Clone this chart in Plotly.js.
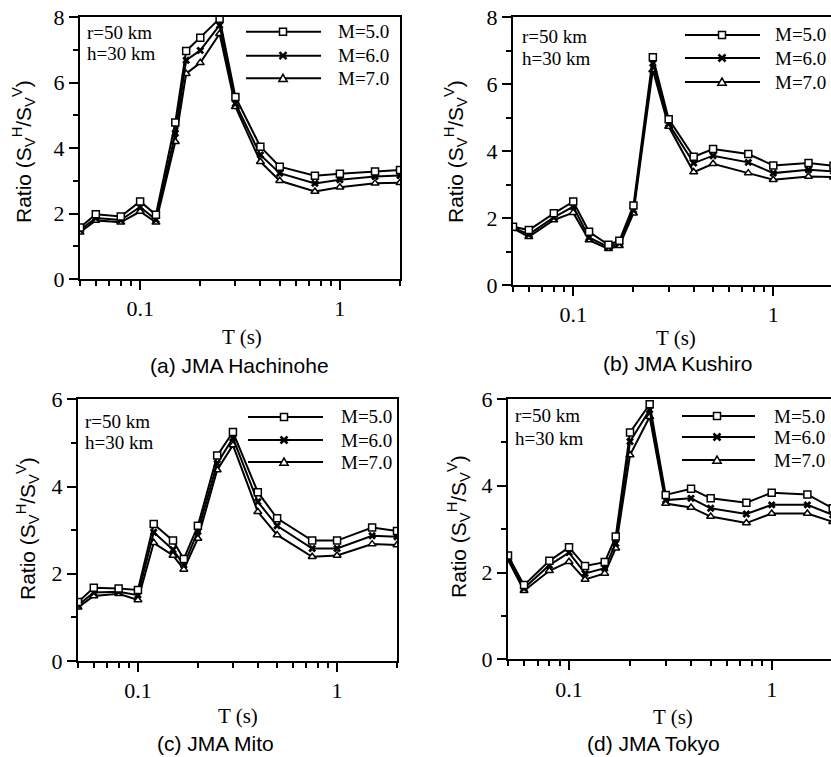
<!DOCTYPE html>
<html>
<head>
<meta charset="utf-8">
<script src="https://cdn.plot.ly/plotly-3.0.1.min.js"></script>
<style>html,body{margin:0;padding:0;background:#fff;}#chart{width:831px;height:757px;}</style>
</head>
<body>
<div id="chart"></div>
<script>
// Periods (s)
const periods = [0.05,0.06,0.08,0.1,0.12,0.15,0.17,0.2,0.25,0.3,0.4,0.5,0.75,1.0,1.5,2.0];
const seriesNames = ['M=5.0','M=6.0','M=7.0'];
const panelCaptions = ['(a) JMA Hachinohe','(b) JMA Kushiro','(c) JMA Mito','(d) JMA Tokyo'];
const xTickVals = [0.1, 1];
const xTickText = ['0.1', '1'];

// (a) JMA Hachinohe
const hachinoheM5 = [1.57,1.98,1.91,2.37,1.96,4.78,6.96,7.37,7.95,5.56,4.04,3.43,3.15,3.21,3.28,3.33];
const hachinoheM6 = [1.50,1.86,1.80,2.20,1.81,4.45,6.68,6.98,7.75,5.36,3.79,3.23,2.92,3.03,3.13,3.16];
const hachinoheM7 = [1.43,1.79,1.73,2.06,1.73,4.19,6.27,6.60,7.49,5.26,3.58,3.00,2.67,2.80,2.92,2.94];
// (b) JMA Kushiro
const kushiroM5 = [1.74,1.64,2.14,2.49,1.59,1.20,1.32,2.37,6.80,4.95,3.83,4.06,3.91,3.57,3.64,3.56];
const kushiroM6 = [1.71,1.51,2.02,2.34,1.42,1.13,1.25,2.24,6.62,4.81,3.64,3.86,3.66,3.34,3.44,3.39];
const kushiroM7 = [1.69,1.44,1.94,2.16,1.34,1.08,1.17,2.14,6.42,4.73,3.37,3.62,3.34,3.14,3.24,3.22];
// (c) JMA Mito
const mitoM5 = [1.35,1.68,1.66,1.63,3.14,2.76,2.34,3.10,4.71,5.25,3.87,3.27,2.76,2.76,3.06,2.98];
const mitoM6 = [1.28,1.57,1.59,1.51,2.95,2.55,2.20,2.97,4.53,5.11,3.65,3.10,2.58,2.58,2.87,2.85];
const mitoM7 = [1.23,1.49,1.54,1.40,2.71,2.42,2.10,2.81,4.38,4.95,3.42,2.89,2.39,2.42,2.68,2.66];
// (d) JMA Tokyo
const tokyoM5 = [2.39,1.71,2.27,2.58,2.15,2.24,2.83,5.23,5.88,3.79,3.93,3.71,3.61,3.84,3.80,3.48];
const tokyoM6 = [2.33,1.64,2.17,2.46,1.98,2.10,2.67,5.02,5.75,3.67,3.71,3.48,3.35,3.56,3.56,3.33];
const tokyoM7 = [2.29,1.58,2.04,2.25,1.84,1.98,2.56,4.71,5.59,3.59,3.50,3.29,3.14,3.36,3.36,3.17];

const W = 831, H = 757;
const SERIF = 'Liberation Serif, Times New Roman, serif';
const SANS = 'Liberation Sans, Arial, sans-serif';
const px = v => v / W;
const py = v => 1 - v / H;

const panels = [
  {data:[hachinoheM5,hachinoheM6,hachinoheM7], x:[80,400], y:[17,279], xr:[Math.log10(0.05),Math.log10(2)], yr:[0,8], yt:[0,2,4,6,8], ym:[1,3,5,7], mirrorY:true,
   leg:{l0:246,l1:321,m:283,t:340,rows:[31.7,55.7,78.3]}, note:{x:85,y1:32,y2:53}, ytitle:{x:23,y:152}, ttl:{x:242,y:337}, cap:{x:239,y:365}},
  {data:[kushiroM5,kushiroM6,kushiroM7], x:[513,831], y:[17,285], xr:[Math.log10(0.05),0.2885], yr:[0,8], yt:[0,2,4,6,8], ym:[1,3,5,7], mirrorY:false,
   leg:{l0:685,l1:760,m:722,t:777,rows:[35,58,82]}, note:{x:520,y1:36,y2:58}, ytitle:{x:455,y:152}, ttl:{x:676,y:338}, cap:{x:677,y:364}},
  {data:[mitoM5,mitoM6,mitoM7], x:[78,397], y:[399.3,661], xr:[Math.log10(0.05),Math.log10(2)], yr:[0,6], yt:[0,2,4,6], ym:[1,3,5], mirrorY:true,
   leg:{l0:248,l1:323,m:284,t:343,rows:[417,440,462]}, note:{x:83,y1:421,y2:442}, ytitle:{x:27,y:529}, ttl:{x:238,y:716}, cap:{x:216,y:743}},
  {data:[tokyoM5,tokyoM6,tokyoM7], x:[508,831], y:[399,659.3], xr:[Math.log10(0.05),0.2926], yr:[0,6], yt:[0,2,4,6], ym:[1,3,5], mirrorY:false,
   leg:{l0:682,l1:755,m:717,t:776,rows:[416,437,460]}, note:{x:513,y1:415,y2:438}, ytitle:{x:458,y:527}, ttl:{x:673,y:717}, cap:{x:653,y:743}}
];

const markers = [
  {symbol:'square', size:7, color:'#fff', line:{color:'#000', width:1.5}},
  {symbol:'x', size:7, color:'#000', line:{color:'#000', width:0}},
  {symbol:'triangle-up', size:7, color:'#fff', line:{color:'#000', width:1.5}}
];

const traces = [];
const layout = {
  width: W, height: H,
  margin: {l:0, r:0, t:0, b:0},
  paper_bgcolor: '#fff', plot_bgcolor: '#fff',
  showlegend: false,
  annotations: [], shapes: []
};

const minorX = [0.05,0.06,0.07,0.08,0.09,0.2,0.3,0.4,0.5,0.6,0.7,0.8,0.9,2];

// legend key glyphs (decoration, in paper pixels)
function keyShapes(k, cx, cy) {
  const s = 3.5;
  if (k === 0) {
    return [{type:'rect', xref:'paper', yref:'paper', x0:px(cx-s), x1:px(cx+s), y0:py(cy+s), y1:py(cy-s),
             fillcolor:'#fff', line:{color:'#000', width:1.5}}];
  }
  if (k === 1) {
    return [
      {type:'line', xref:'paper', yref:'paper', x0:px(cx-s), x1:px(cx+s), y0:py(cy-s), y1:py(cy+s), line:{color:'#000', width:2.5}},
      {type:'line', xref:'paper', yref:'paper', x0:px(cx-s), x1:px(cx+s), y0:py(cy+s), y1:py(cy-s), line:{color:'#000', width:2.5}}
    ];
  }
  const path = 'M' + px(cx-4.2) + ',' + py(cy+3.2) + ' L' + px(cx+4.2) + ',' + py(cy+3.2) + ' L' + px(cx) + ',' + py(cy-4) + ' Z';
  return [{type:'path', xref:'paper', yref:'paper', path:path, fillcolor:'#fff', line:{color:'#000', width:1.5}}];
}

panels.forEach((p, i) => {
  const n = i === 0 ? '' : String(i + 1);
  const xa = 'x' + n, ya = 'y' + n;
  // draw M=7 first so squares lie on top
  for (let k = 2; k >= 0; k--) {
    traces.push({
      type: 'scatter', mode: 'lines+markers',
      x: periods, y: p.data[k],
      xaxis: xa, yaxis: ya,
      name: seriesNames[k],
      line: {color: '#000', width: 2},
      marker: markers[k],
      hoverinfo: 'skip'
    });
  }
  layout['xaxis' + n] = {
    domain: [px(p.x[0]), px(p.x[1])],
    anchor: ya, type: 'log', range: p.xr,
    showline: true, linecolor: '#000', linewidth: 2, mirror: true,
    showgrid: false, zeroline: false,
    ticks: 'outside', ticklen: 9, tickwidth: 2, tickcolor: '#000',
    tickmode: 'array', tickvals: xTickVals, ticktext: xTickText,
    tickfont: {family: SERIF, size: 22, color: '#000'},
    minor: {tickmode: 'array', tickvals: minorX, ticks: 'outside', ticklen: 5, tickwidth: 2, tickcolor: '#000', showgrid: false}
  };
  layout['yaxis' + n] = {
    domain: [py(p.y[1]), py(p.y[0])],
    anchor: xa, range: p.yr,
    showline: true, linecolor: '#000', linewidth: 2, mirror: p.mirrorY,
    showgrid: false, zeroline: false,
    ticks: 'outside', ticklen: 9, tickwidth: 2, tickcolor: '#000',
    tickmode: 'array', tickvals: p.yt,
    tickfont: {family: SERIF, size: 22, color: '#000'},
    minor: {tickmode: 'array', tickvals: p.ym, ticks: 'outside', ticklen: 5, tickwidth: 2, tickcolor: '#000', showgrid: false}
  };
  // legend
  for (let k = 0; k < 3; k++) {
    const cy = p.leg.rows[k];
    layout.shapes.push({type:'line', xref:'paper', yref:'paper', x0:px(p.leg.l0), x1:px(p.leg.l1), y0:py(cy), y1:py(cy),
                        line:{color:'#000', width:2}});
    keyShapes(k, p.leg.m, cy).forEach(s => layout.shapes.push(s));
    layout.annotations.push({xref:'paper', yref:'paper', x:px(p.leg.t - 3), y:py(cy), xanchor:'left', yanchor:'middle',
      showarrow:false, borderpad:0, text:seriesNames[k], font:{family:SERIF, size:19, color:'#000'}});
  }
  layout.annotations.push(
    {xref:'paper', yref:'paper', x:px(p.note.x), y:py(p.note.y1), xanchor:'left', yanchor:'middle', showarrow:false,
     text:'r=50 km', font:{family:SERIF, size:19, color:'#000'}},
    {xref:'paper', yref:'paper', x:px(p.note.x), y:py(p.note.y2), xanchor:'left', yanchor:'middle', showarrow:false,
     text:'h=30 km', font:{family:SERIF, size:19, color:'#000'}},
    {xref:'paper', yref:'paper', x:px(p.ytitle.x), y:py(p.ytitle.y), xanchor:'center', yanchor:'middle', showarrow:false,
     textangle:-90, text:'Ratio (S<sub>V</sub><sup>H</sup>/S<sub>V</sub><sup>V</sup>)', font:{family:SANS, size:21, color:'#000'}},
    {xref:'paper', yref:'paper', x:px(p.ttl.x), y:py(p.ttl.y), xanchor:'center', yanchor:'middle', showarrow:false, borderpad:0,
     text:'T (s)', font:{family:SERIF, size:21, color:'#000'}},
    {xref:'paper', yref:'paper', x:px(p.cap.x), y:py(p.cap.y), xanchor:'center', yanchor:'middle', showarrow:false, borderpad:0,
     text:panelCaptions[i], font:{family:SANS, size:21, color:'#000'}}
  );
});

Plotly.newPlot('chart', traces, layout, {staticPlot: true, displayModeBar: false});
</script>
</body>
</html>
